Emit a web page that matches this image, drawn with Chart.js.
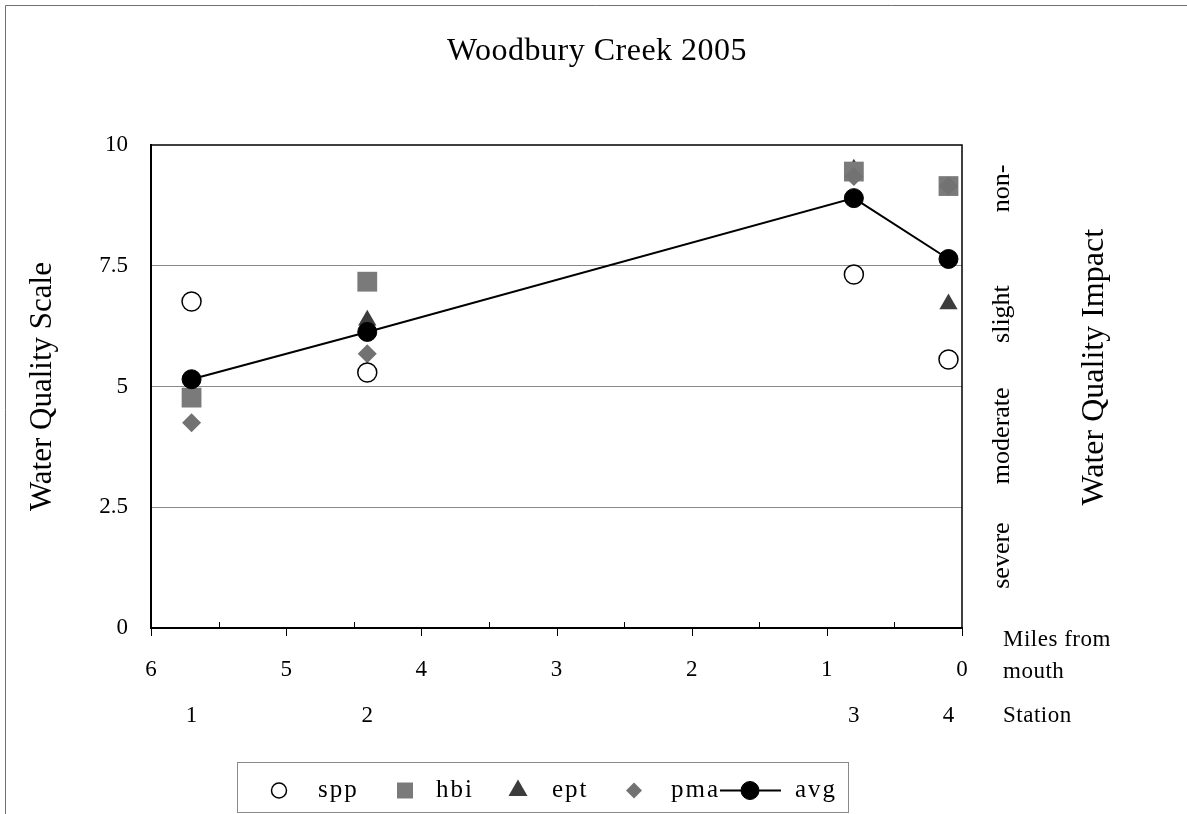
<!DOCTYPE html>
<html><head><meta charset="utf-8">
<script src="https://cdn.jsdelivr.net/npm/chart.js@4.4.1/dist/chart.umd.min.js"></script>
<style>html,body{margin:0;padding:0;background:#fff;overflow:hidden}canvas{display:block}</style>
</head><body>
<canvas id="c" width="1187" height="814"></canvas>
<script>
// ---- data ----
const miles = [5.7, 4.4, 0.8, 0.1];
const stationLabels = ['1', '2', '3', '4'];
const mileTicks = [6, 5, 4, 3, 2, 1, 0];
const yTicks = [0, 2.5, 5, 7.5, 10];
const spp = [6.76, 5.29, 7.32, 5.56];
const hbi = [4.77, 7.17, 9.45, 9.15];
const ept = [4.80, 6.37, 9.50, 6.71];
const pma = [4.25, 5.68, 9.35, 9.15];
const avg = [5.15, 6.13, 8.90, 7.64];
const impactLabels = ['severe', 'moderate', 'slight', 'non-'];
const impactAt = [1.5, 3.98, 6.5, 9.1];
const chartTitle = 'Woodbury Creek 2005';
const yTitle = 'Water Quality Scale';
const y2Title = 'Water Quality Impact';
const milesTitle = ['Miles from', 'mouth'];
const stationTitle = 'Station';

const FONT = '"Liberation Serif", "Times New Roman", serif';
Chart.defaults.font.family = FONT;
Chart.defaults.color = '#000';

const pts = arr => miles.map((x, i) => ({x: x, y: arr[i]}));

const datasets = [
  {label: 'spp', data: pts(spp), pointStyle: 'circle', pointRadius: 9.5, pointBackgroundColor: '#fff', pointBorderColor: '#000', pointBorderWidth: 1.5, showLine: false, order: 1, legendRadius: 7.5},
  {label: 'hbi', data: pts(hbi), pointStyle: 'rect', pointRadius: 14, pointBackgroundColor: '#7a7a7a', pointBorderColor: '#7a7a7a', pointBorderWidth: 0, showLine: false, order: 3, legendRadius: 11.3},
  {label: 'ept', data: pts(ept), pointStyle: 'triangle', pointRadius: 10.5, pointBackgroundColor: '#3c3c3c', pointBorderColor: '#3c3c3c', pointBorderWidth: 0, showLine: false, order: 4, legendRadius: 11},
  {label: 'pma', data: pts(pma), pointStyle: 'rectRot', pointRadius: 9.5, pointBackgroundColor: '#727272', pointBorderColor: '#727272', pointBorderWidth: 0, showLine: false, order: 2, legendRadius: 8},
  {label: 'avg', data: pts(avg), pointStyle: 'circle', pointRadius: 9.5, pointBackgroundColor: '#000', pointBorderColor: '#000', pointBorderWidth: 1, showLine: true, borderColor: '#000', borderWidth: 2, order: 0, legendRadius: 9, legendLine: true}
];

const decor = {
  id: 'decor',
  beforeDraw(chart) {
    const ctx = chart.ctx;
    ctx.save();
    ctx.fillStyle = '#fff';
    ctx.fillRect(0, 0, chart.width, chart.height);
    ctx.strokeStyle = '#707070';
    ctx.lineWidth = 1;
    ctx.beginPath();
    ctx.moveTo(5.5, chart.height); ctx.lineTo(5.5, 5.5); ctx.lineTo(chart.width, 5.5);
    ctx.stroke();
    ctx.restore();
  },
  beforeDatasetsDraw(chart) {
    const ctx = chart.ctx, a = chart.chartArea, xs = chart.scales.x;
    ctx.save();
    ctx.strokeStyle = '#000';
    ctx.lineWidth = 1.5;
    ctx.strokeRect(a.left, a.top, a.right - a.left, a.bottom - a.top);
    ctx.lineWidth = 1;
    ctx.beginPath();
    for (let i = 0; i < mileTicks.length; i++) {
      const px = Math.round(xs.getPixelForValue(mileTicks[i])) + 0.5;
      ctx.moveTo(px, a.bottom); ctx.lineTo(px, a.bottom + 8);
      if (i < mileTicks.length - 1) {
        const m = Math.round(xs.getPixelForValue((mileTicks[i] + mileTicks[i + 1]) / 2)) + 0.5;
        ctx.moveTo(m, a.bottom); ctx.lineTo(m, a.bottom - 6);
      }
    }
    ctx.stroke();
    ctx.restore();
  },
  afterDraw(chart) {
    const ctx = chart.ctx, a = chart.chartArea, ys = chart.scales.y;
    ctx.save();
    ctx.fillStyle = '#000';
    // title
    ctx.font = '32px ' + FONT;
    ctx.letterSpacing = '0.5px';
    ctx.textAlign = 'center';
    ctx.textBaseline = 'alphabetic';
    ctx.fillText(chartTitle, 597, 60);
    // impact labels (rotated)
    ctx.font = '26px ' + FONT;
    ctx.letterSpacing = '0px';
    for (let i = 0; i < impactLabels.length; i++) {
      ctx.save();
      ctx.translate(a.right + 47, ys.getPixelForValue(impactAt[i]));
      ctx.rotate(-Math.PI / 2);
      ctx.fillText(impactLabels[i], 0, 0);
      ctx.restore();
    }
    // right title
    ctx.font = '32px ' + FONT;
    ctx.save();
    ctx.translate(a.right + 141, ys.getPixelForValue(5.4));
    ctx.rotate(-Math.PI / 2);
    ctx.fillText(y2Title, 0, 0);
    ctx.restore();
    // miles / station titles
    ctx.font = '23px ' + FONT;
    ctx.letterSpacing = '0.5px';
    ctx.textAlign = 'left';
    ctx.fillText(milesTitle[0], a.right + 41, a.bottom + 18);
    ctx.fillText(milesTitle[1], a.right + 41, a.bottom + 50);
    ctx.fillText(stationTitle, a.right + 41, a.bottom + 94);
    // legend
    const L = {x: 237.5, y: 762.5, w: 611, h: 50};
    ctx.strokeStyle = '#8a8a8a';
    ctx.lineWidth = 1;
    ctx.strokeRect(L.x, L.y, L.w, L.h);
    const markX = [279, 405, 518, 634, 750];
    const textX = [318, 436, 552, 671, 795];
    const cy = L.y + 28;
    ctx.font = '25px ' + FONT;
    ctx.letterSpacing = '2px';
    chart.data.datasets.forEach((ds, i) => {
      if (ds.legendLine) {
        ctx.strokeStyle = ds.borderColor;
        ctx.lineWidth = ds.borderWidth;
        ctx.beginPath(); ctx.moveTo(720, cy); ctx.lineTo(781, cy); ctx.stroke();
      }
      ctx.fillStyle = ds.pointBackgroundColor;
      ctx.strokeStyle = ds.pointBorderColor;
      ctx.lineWidth = ds.pointBorderWidth;
      Chart.helpers.drawPoint(ctx, {pointStyle: ds.pointStyle, radius: ds.legendRadius, rotation: 0, borderWidth: ds.pointBorderWidth}, markX[i], cy);
      ctx.fillStyle = '#000';
      ctx.textBaseline = 'middle';
      ctx.fillText(ds.label, textX[i], cy);
    });
    ctx.restore();
  }
};

new Chart(document.getElementById('c'), {
  type: 'scatter',
  data: {datasets: datasets},
  options: {
    responsive: false,
    animation: false,
    devicePixelRatio: 1,
    layout: {padding: {left: 0, right: 225, top: 145, bottom: 76}},
    plugins: {legend: {display: false}, title: {display: false}, tooltip: {enabled: false}},
    scales: {
      x: {
        type: 'linear', position: 'bottom', min: 0, max: 6, reverse: true,
        afterBuildTicks: s => { s.ticks = mileTicks.map(v => ({value: v})); },
        afterFit: s => { s.height = 60; },
        ticks: {autoSkip: false, maxRotation: 0, padding: 28, font: {size: 23}, color: '#000'},
        grid: {display: false, drawTicks: false},
        border: {display: true, color: '#000', width: 2}
      },
      x2: {
        type: 'linear', position: 'bottom', min: 0, max: 6, reverse: true,
        afterBuildTicks: s => { s.ticks = miles.map(v => ({value: v})); },
        afterFit: s => { s.height = 50; },
        ticks: {autoSkip: false, maxRotation: 0, padding: 14, font: {size: 23}, color: '#000',
          callback: (v, i) => stationLabels[i]},
        grid: {display: false, drawTicks: false},
        border: {display: false}
      },
      y: {
        type: 'linear', position: 'left', min: 0, max: 10,
        afterBuildTicks: s => { s.ticks = yTicks.map(v => ({value: v})); },
        afterFit: s => { s.width = 151; },
        ticks: {padding: 23, font: {size: 23}, color: '#000', callback: v => String(v)},
        grid: {drawTicks: false, lineWidth: 1,
          color: c => (c.tick && (c.tick.value === 0 || c.tick.value === 10)) ? 'rgba(0,0,0,0)' : '#8a8a8a'},
        border: {color: '#000', width: 2},
        title: {display: true, text: yTitle, font: {size: 31}, color: '#000', padding: {top: 24, bottom: 0}}
      }
    }
  },
  plugins: [decor]
});
</script>
</body></html>
